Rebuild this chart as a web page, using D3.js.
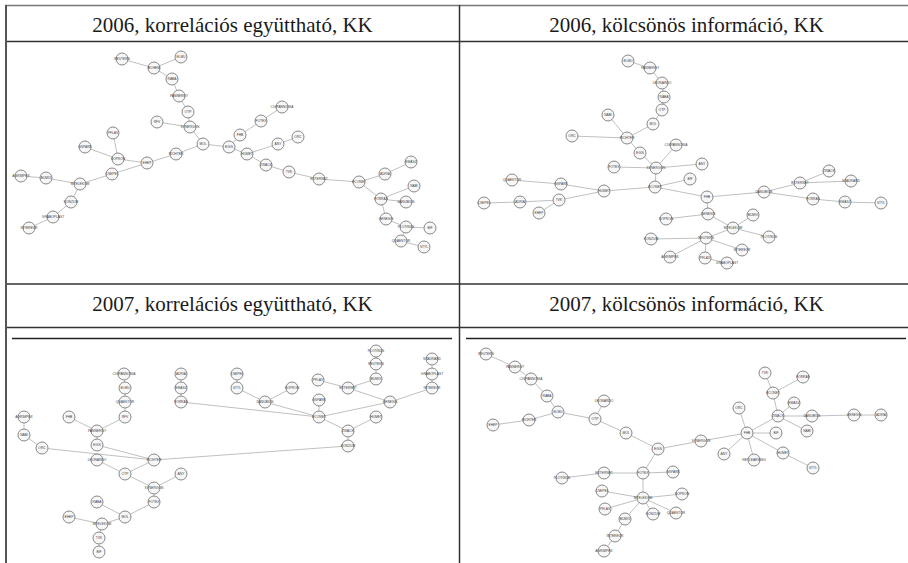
<!DOCTYPE html>
<html lang="hu">
<head>
<meta charset="utf-8">
<script src="https://d3js.org/d3.v7.min.js"></script>
<style>
  body { margin: 0; background: #fff; }
</style>
</head>
<body>
<script>
// panel titles
var titles = [
  "2006, korrelációs együttható, KK",
  "2006, kölcsönös információ, KK",
  "2007, korrelációs együttható, KK",
  "2007, kölcsönös információ, KK"
];

// node layouts, in layout units of each panel (0..453 wide, 0..242 high)
var nodes06cc = [
  ["REUTERS",116,17],["BCHEM",148,26],["ELMU",175,15],["RABA",166,37],["PANNERGY",173,54],
  ["OTP",182,70],["SYNERGON",184,85],["RFV",151,80],["MOL",197,102],["EGIS",223,105],
  ["FHB",234,93],["FOTEX",255,79],["CIGPANNONIA",276,65],["HUMET",241,112],["ANY",272,102],
  ["ORC",292,95],["ZWACK",260,123],["TVK",283,130],["EXTERNET",313,137],["ECONET",353,140],
  ["ADRIA",379,132],["EMASZ",405,120],["FORRAS",375,157],["NABI",408,144],["DANUBIUS",400,160],
  ["GENESIS",380,177],["PLOTINUS",400,185],["BIF",424,186],["QUAESTOR",395,199],["STYL",418,205],
  ["RICHTER",170,112],["EHEP",141,121],["SOPRON",112,117],["PFLAX",107,91],["GSPARK",79,105],
  ["CSEPEL",106,132],["MTELEKOM",74,142],["BUMIX",40,136],["AGRIMPEX",15,134],["KONZUM",65,160],
  ["GRABOPLAST",47,175],["INTEREUR",23,186]
];
var links06cc = [
  [0,1],[1,2],[1,3],[3,4],[4,5],[5,6],[6,7],[6,8],[8,9],[9,10],[10,11],[11,12],[9,13],
  [13,14],[14,15],[13,16],[16,17],[17,18],[18,19],[19,20],[20,21],[19,22],[22,23],[22,24],
  [22,25],[25,26],[26,27],[26,28],[28,29],[8,30],[30,31],[31,32],[32,33],[32,34],[31,35],
  [35,36],[36,37],[37,38],[36,39],[39,40],[40,41]
];

var nodes06mi = [
  ["ELMU",168,19],["PANNERGY",190,26],["LEONARDO",202,41],["RABA",204,55],["OTP",202,68],
  ["MOL",193,82],["NABI",148,73],["RICHTER",167,96],["ORC",112,94],["EGIS",180,111],
  ["CIGPANNONIA",216,103],["SYNERGON",196,126],["FOTEX",154,125],["ANY",242,122],["ECONET",195,145],
  ["BIF",230,137],["FHB",247,155],["HUMET",144,149],["GSPARK",101,142],["QUAESTOR",52,138],
  ["TVK",99,158],["ADRIA",60,160],["CSEPEL",24,161],["EHEP",79,171],["DANUBIUS",304,150],
  ["EXTERNET",340,141],["ZWACK",369,129],["STADRARD",391,139],["FORRAS",353,157],["EMASZ",385,160],
  ["STYL",421,161],["GENESIS",248,172],["SOPRON",206,177],["MTELEKOM",273,186],["BUMIX",293,173],
  ["PLOTINUS",309,195],["REUTERS",246,196],["KONZUM",191,197],["AGRIMPEX",210,215],["PFLAX",245,216],
  ["GRABOPLAST",267,221],["INTEREUR",282,208]
];
var links06mi = [
  [0,1],[1,2],[2,3],[3,4],[4,5],[5,7],[6,7],[8,7],[7,9],[9,11],[11,12],[10,11],[11,13],
  [11,14],[14,15],[14,17],[17,18],[18,19],[17,20],[20,21],[21,22],[20,23],[14,16],[16,24],
  [24,25],[25,26],[25,27],[24,28],[28,29],[29,30],[16,31],[31,32],[31,33],[33,34],[33,35],
  [33,36],[36,37],[36,38],[36,39],[39,40],[36,41]
];

var nodes07cc = [
  ["CIGPANNONIA",118,46],["ELMU",119,60],["QUAESTOR",119,74],["RFV",119,89],["PANNERGY",91,103],
  ["FHB",63,89],["EGIS",91,117],["RICHTER",148,132],["LEONARDO",91,132],["OTP",119,146],
  ["SYNERGON",148,160],["ANY",175,146],["FOTEX",148,174],["MOL",119,189],["RABA",91,174],
  ["MTELEKOM",96,196],["EHEP",63,189],["TVK",93,210],["BIF",93,224],["ORC",36,120],
  ["NABI",18,107],["AGRIMPEX",18,89],["KONZUM",342,118],["ZWACK",342,103],["HUMET",370,89],
  ["ECONET",313,89],["GSPARK",313,72],["FORRAS",175,74],["EMASZ",175,60],["ADRIA",175,46],
  ["DANUBIUS",259,74],["STYL",231,60],["CSEPEL",231,46],["SOPRON",286,60],["GENESIS",384,74],
  ["EXTERNET",342,60],["PFLAX",312,52],["BUMIX",370,51],["REUTERS",370,36],["PLOTINUS",370,23],
  ["INTEREUR",426,60],["GRABOPLAST",426,46],["STADRARD",426,31]
];
var links07cc = [
  [0,1],[1,2],[2,3],[3,4],[4,5],[4,6],[6,7],[8,9],[9,7],[9,10],[10,11],[10,12],[12,13],
  [13,14],[13,15],[15,16],[15,17],[17,18],[7,19],[19,20],[20,21],[7,22],[22,23],[23,24],
  [23,25],[25,26],[25,27],[27,28],[28,29],[25,30],[30,31],[31,32],[30,33],[25,34],[34,35],
  [35,36],[35,37],[37,38],[38,39],[34,40],[40,41],[41,42]
];

var nodes07mi = [
  ["REUTERS",26,26],["PANNERGY",55,39],["CIGPANNONIA",71,51],["RABA",87,68],["ELMU",98,84],
  ["RICHTER",69,92],["EHEP",33,97],["LEONARDO",144,73],["OTP",135,91],["MOL",166,105],
  ["EGIS",198,121],["SYNERGON",241,113],["FHB",287,105],["ORC",279,80],["ANY",264,126],
  ["NETLEARNING",294,132],["BIF",316,105],["HUMET",323,125],["STYL",353,140],["ZWACK",318,88],
  ["ECONET",313,65],["TVK",305,45],["FORRAS",343,49],["EMASZ",334,75],["DANUBIUS",352,88],
  ["GENESIS",394,87],["ADRIA",421,87],["NABI",347,103],["FOTEX",183,145],["EXTERNET",144,145],
  ["PLOTINUS",102,150],["GSPARK",213,144],["MTELEKOM",183,170],["CSEPEL",142,163],["SOPRON",222,166],
  ["PFLAX",145,181],["KONZUM",193,186],["QUAESTOR",216,185],["BUMIX",165,191],["INTEREUR",155,208],
  ["AGRIMPEX",144,223]
];
var links07mi = [
  [0,1],[1,2],[2,3],[3,4],[4,5],[5,6],[4,8],[8,7],[8,9],[9,10],[10,11],[11,12],[12,13],
  [12,14],[12,15],[12,16],[12,17],[17,18],[12,19],[19,20],[20,21],[20,22],[19,23],[19,24],
  [24,25],[25,26],[19,27],[10,28],[28,29],[29,30],[28,31],[28,32],[32,33],[32,34],[32,35],
  [32,36],[32,37],[32,38],[38,39],[39,40]
];

var panels = [
  { title: titles[0], nodes: nodes06cc, links: links06cc, x0: 6,   y0: 42,  hy: 5,   rule: false },
  { title: titles[1], nodes: nodes06mi, links: links06mi, x0: 460, y0: 42,  hy: 5,   rule: false },
  { title: titles[2], nodes: nodes07cc, links: links07cc, x0: 6,   y0: 328, hy: 284, rule: true  },
  { title: titles[3], nodes: nodes07mi, links: links07mi, x0: 460, y0: 328, hy: 284, rule: true  }
];

var width = 908, height = 563, cellW = 453;

var svg = d3.select("body").append("svg")
    .attr("width", width)
    .attr("height", height);

// table frame
svg.append("line").attr("x1", 5).attr("x2", width).attr("y1", 5.5).attr("y2", 5.5)
    .attr("stroke", "#777").attr("stroke-width", 1.5);
[41.5, 284, 327.5].forEach(function (y) {
  svg.append("line").attr("x1", 5).attr("x2", width).attr("y1", y).attr("y2", y)
      .attr("stroke", "#333").attr("stroke-width", 1.6);
});
svg.append("line").attr("x1", 6).attr("x2", 6).attr("y1", 5).attr("y2", height)
    .attr("stroke", "#555").attr("stroke-width", 2);
svg.append("line").attr("x1", 459.5).attr("x2", 459.5).attr("y1", 5).attr("y2", height)
    .attr("stroke", "#333").attr("stroke-width", 1.5);

panels.forEach(function (p) {
  var x = d3.scaleLinear().domain([0, cellW]).range([p.x0, p.x0 + cellW]);
  var y = d3.scaleLinear().domain([0, 242]).range([p.y0, p.y0 + 242]);

  // header
  svg.append("text")
      .attr("x", p.x0 + cellW / 2)
      .attr("y", p.hy + 27)
      .attr("text-anchor", "middle")
      .attr("font-family", "'Liberation Serif', 'Times New Roman', serif")
      .attr("font-size", 21)
      .attr("fill", "#1a1a1a")
      .text(p.title);

  // the 2007 pictures carry a rule on top
  if (p.rule) {
    svg.append("line")
        .attr("x1", p.x0 + 6).attr("x2", p.x0 + 446)
        .attr("y1", p.y0 + 10.5).attr("y2", p.y0 + 10.5)
        .attr("stroke", "#222").attr("stroke-width", 1.5);
  }

  var g = svg.append("g");

  g.selectAll("line.edge")
    .data(p.links)
    .enter().append("line")
      .attr("class", "edge")
      .attr("x1", function (d) { return x(p.nodes[d[0]][1]); })
      .attr("y1", function (d) { return y(p.nodes[d[0]][2]); })
      .attr("x2", function (d) { return x(p.nodes[d[1]][1]); })
      .attr("y2", function (d) { return y(p.nodes[d[1]][2]); })
      .attr("stroke", "#b0b0b0")
      .attr("stroke-width", 0.8);

  var node = g.selectAll("g.node")
    .data(p.nodes)
    .enter().append("g")
      .attr("class", "node")
      .attr("transform", function (d) { return "translate(" + x(d[1]) + "," + y(d[2]) + ")"; });

  node.append("circle")
      .attr("r", 6)
      .attr("fill", "#f7f7f7")
      .attr("stroke", "#7a7a7a")
      .attr("stroke-width", 0.9);

  node.append("text")
      .attr("text-anchor", "middle")
      .attr("dy", "0.35em")
      .attr("font-family", "'Liberation Sans', Arial, sans-serif")
      .attr("font-size", 3.3)
      .attr("fill", "#444")
      .text(function (d) { return d[0]; });
});
</script>
</body>
</html>
